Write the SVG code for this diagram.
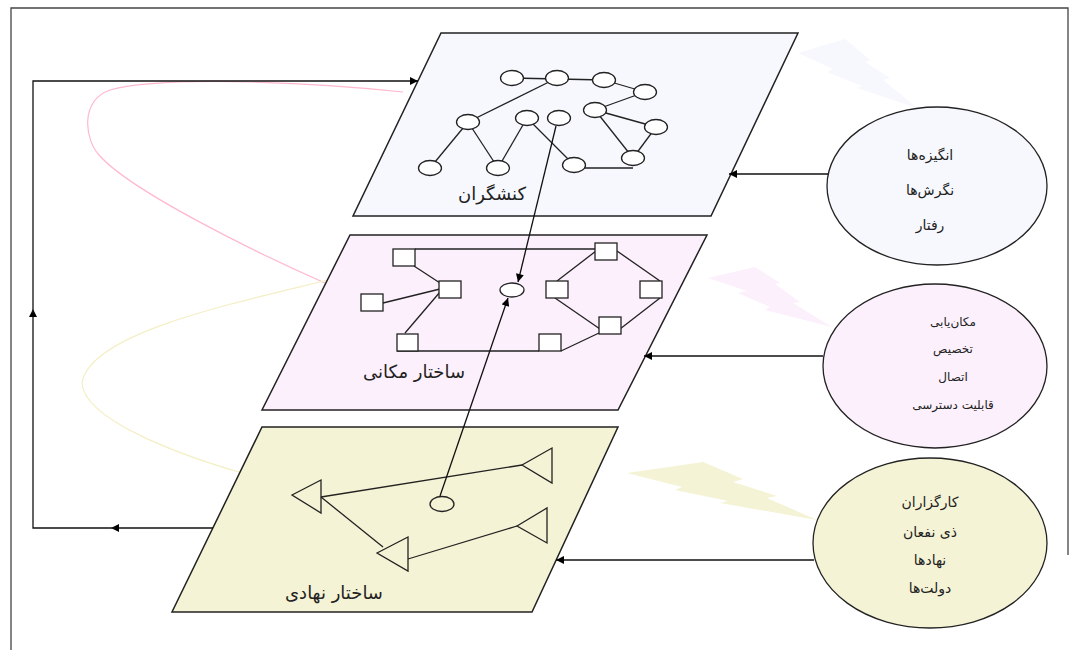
<svg xmlns="http://www.w3.org/2000/svg" width="1079" height="650" viewBox="0 0 1079 650">
<defs>
<marker id="ah" viewBox="0 0 10 10" refX="10" refY="5" markerWidth="10" markerHeight="8" markerUnits="userSpaceOnUse" orient="auto">
<path d="M0,0 L10,5 L0,10 z" fill="#000"/>
</marker>
<marker id="am" viewBox="0 0 10 10" refX="5" refY="5" markerWidth="10" markerHeight="8" markerUnits="userSpaceOnUse" orient="auto">
<path d="M0,0 L10,5 L0,10 z" fill="#000"/>
</marker>
</defs>
<style>
.pl{stroke:#222;stroke-width:1.5}
.nd{fill:none;stroke:#222;stroke-width:1.3}
.nf{fill:#fff;stroke:#222;stroke-width:1.3}
.ed{stroke:#222;stroke-width:1.3;fill:none}
.cn{stroke:#111;stroke-width:1.3;fill:none}
.tl{font-family:"DejaVu Sans",sans-serif;font-size:18px;fill:#222;text-anchor:middle}
.tx{font-family:"DejaVu Sans",sans-serif;font-size:14px;fill:#222;text-anchor:middle}
.ts{font-family:"DejaVu Sans",sans-serif;font-size:12px;fill:#222;text-anchor:middle}
.blue{fill:#f7f8fd}
.pink{fill:#fcf0fc}
.yel{fill:#f5f3d5}
</style>
<rect width="1079" height="650" fill="#fff"/>
<path d="M11,650 L11,8 L1068,8 L1068,555" fill="none" stroke="#444" stroke-width="1.3"/>

<g id="bolts">
<polygon class="blue" points="798,53 845,39 870,60 865,62 890,78 883,80 917,108 857,88 862,86 827,72 833,69"/>
<polygon class="pink" points="708,278 755,267 780,283 775,284 800,302 793,303 832,327 765,310 770,307 738,293 747,291"/>
<polygon class="yel" points="627,473 703,462 743,479 733,482 777,496 767,498 817,520 720,503 728,501 675,490 682,487"/>
</g>

<g id="curves">
<path d="M403,92 C330,84 170,74 110,90 C80,100 84,140 100,156 C130,190 250,250 325,283" fill="none" stroke="#ffb8cc" stroke-width="1.2"/>
<path d="M348,275 C250,300 90,330 82,383 C84,420 180,455 242,473" fill="none" stroke="#f3efc4" stroke-width="1.2"/>
</g>

<g id="plane-actors">
<polygon class="pl blue" points="441,33 798,33 711,216 353,216"/>
<g class="ed">
<line x1="512" y1="78" x2="604" y2="80"/>
<line x1="604" y1="80" x2="645" y2="92"/>
<line x1="645" y1="92" x2="595" y2="110"/>
<line x1="557" y1="78" x2="468" y2="122"/>
<line x1="468" y1="122" x2="430" y2="168"/>
<line x1="468" y1="122" x2="498" y2="168"/>
<line x1="498" y1="168" x2="527" y2="118"/>
<line x1="527" y1="118" x2="574" y2="165"/>
<line x1="574" y1="168" x2="633" y2="168"/>
<line x1="595" y1="110" x2="656" y2="127"/>
<line x1="595" y1="110" x2="633" y2="158"/>
<line x1="656" y1="127" x2="633" y2="158"/>
</g>
<g class="nf">
<ellipse cx="512" cy="78" rx="11.5" ry="7.5"/>
<ellipse cx="557" cy="78" rx="11.5" ry="7.5"/>
<ellipse cx="604" cy="80" rx="11.5" ry="7.5"/>
<ellipse cx="645" cy="92" rx="11.5" ry="7.5"/>
<ellipse cx="595" cy="110" rx="11.5" ry="7.5"/>
<ellipse cx="656" cy="127" rx="11.5" ry="7.5"/>
<ellipse cx="468" cy="122" rx="11.5" ry="7.5"/>
<ellipse cx="527" cy="118" rx="11.5" ry="7.5"/>
<ellipse cx="559" cy="118" rx="11.5" ry="7.5"/>
<ellipse cx="430" cy="168" rx="11.5" ry="7.5"/>
<ellipse cx="498" cy="168" rx="11.5" ry="7.5"/>
<ellipse cx="574" cy="165" rx="11.5" ry="7.5"/>
<ellipse cx="633" cy="158" rx="11.5" ry="7.5"/>
</g>
<text class="tl" x="492" y="200" direction="rtl">کنشگران</text>
</g>

<g id="plane-spatial">
<polygon class="pl pink" points="350,235 707,235 618,410 262,410"/>
<g class="ed">
<line x1="415" y1="249" x2="597" y2="249"/>
<line x1="414" y1="266" x2="440" y2="283"/>
<line x1="383" y1="303" x2="440" y2="289"/>
<line x1="405" y1="333" x2="440" y2="292"/>
<line x1="397" y1="351" x2="539" y2="351"/>
<line x1="561" y1="351" x2="599" y2="333"/>
<line x1="596" y1="251" x2="557" y2="281"/>
<line x1="617" y1="251" x2="660" y2="281"/>
<line x1="555" y1="298" x2="600" y2="329"/>
<line x1="660" y1="298" x2="620" y2="329"/>
</g>
<g class="nf">
<rect x="393" y="249" width="22" height="17"/>
<rect x="439" y="281" width="22" height="17"/>
<rect x="361" y="294" width="22" height="17"/>
<rect x="397" y="334" width="21" height="17"/>
<rect x="595" y="243" width="22" height="17"/>
<rect x="546" y="281" width="22" height="17"/>
<rect x="640" y="281" width="22" height="17"/>
<rect x="599" y="317" width="22" height="17"/>
<rect x="539" y="334" width="22" height="17"/>
<ellipse cx="512" cy="290" rx="12" ry="7"/>
</g>
<text class="tl" x="414" y="378" direction="rtl">ساختار مکانی</text>
</g>

<g id="plane-institutional">
<polygon class="pl yel" points="262,427 618,427 532,612 172,612"/>
<g class="ed">
<line x1="321" y1="497" x2="522" y2="465"/>
<line x1="321" y1="497" x2="383" y2="547"/>
<line x1="408" y1="559" x2="517" y2="526"/>
</g>
<g class="nd">
<polygon points="292,495 321,480 321,513"/>
<polygon points="522,465 552,448 552,483"/>
<polygon points="517,526 547,508 547,543"/>
<polygon points="377,553 408,537 408,571"/>
<ellipse cx="442" cy="504" rx="12" ry="7.5"/>
</g>
<text class="tl" x="334" y="599" direction="rtl">ساختار نهادی</text>
</g>

<g id="circle-actors">
<ellipse cx="937" cy="186" rx="110" ry="79" class="blue" stroke="#222" stroke-width="1.3"/>
<text class="tx" x="930" y="160" direction="rtl">انگیزه‌ها</text>
<text class="tx" x="930" y="195" direction="rtl">نگرش‌ها</text>
<text class="tx" x="930" y="230" direction="rtl">رفتار</text>
</g>

<g id="circle-spatial">
<ellipse cx="935" cy="366" rx="112" ry="82" class="pink" stroke="#222" stroke-width="1.3"/>
<text class="ts" x="953" y="326" direction="rtl">مکان‌یابی</text>
<text class="ts" x="953" y="353" direction="rtl">تخصیص</text>
<text class="ts" x="953" y="381" direction="rtl">اتصال</text>
<text class="ts" x="953" y="409" direction="rtl">قابلیت دسترسی</text>
</g>

<g id="circle-institutional">
<ellipse cx="930" cy="543" rx="117" ry="85" class="yel" stroke="#222" stroke-width="1.3"/>
<text class="tx" x="930" y="507" direction="rtl">کارگزاران</text>
<text class="tx" x="930" y="537" direction="rtl">ذی نفعان</text>
<text class="tx" x="930" y="565" direction="rtl">نهادها</text>
<text class="tx" x="930" y="593" direction="rtl">دولت‌ها</text>
</g>

<g id="connectors">
<line class="cn" x1="556" y1="126" x2="518" y2="282" marker-end="url(#ah)"/>
<line class="cn" x1="440" y1="496" x2="508" y2="298" marker-end="url(#ah)"/>
<line class="cn" x1="828" y1="174" x2="729" y2="174" marker-end="url(#ah)"/>
<line class="cn" x1="823" y1="356" x2="644" y2="356" marker-end="url(#ah)"/>
<line class="cn" x1="814" y1="560" x2="556" y2="560" marker-end="url(#ah)"/>
<path class="cn" d="M213,528 L115,528" marker-end="url(#am)"/>
<path class="cn" d="M115,528 L33,528 L33,313"  marker-end="url(#am)"/>
<path class="cn" d="M33,313 L33,81 L418,81" marker-end="url(#ah)"/>
</g>
</svg>
